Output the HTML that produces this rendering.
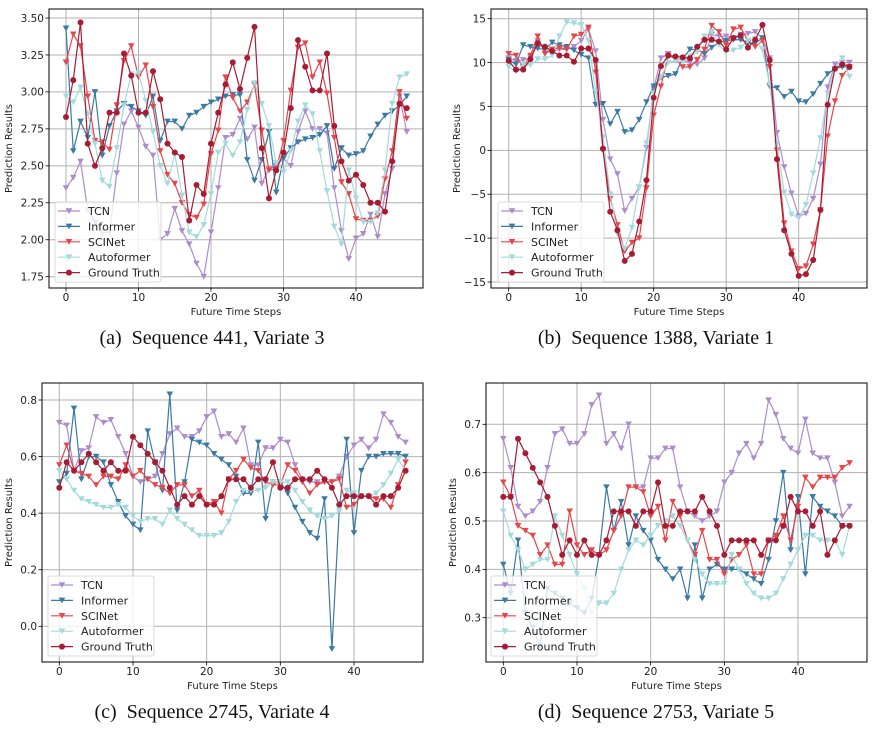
<!DOCTYPE html>
<html><head><meta charset="utf-8"><style>
html,body{margin:0;padding:0;background:#fff;width:881px;height:729px;overflow:hidden}
svg{display:block}
.tk{font-family:"DejaVu Sans","Liberation Sans",sans-serif;font-size:10.5px;fill:#222}
.lb{font-family:"DejaVu Sans","Liberation Sans",sans-serif;font-size:10px;fill:#222}
.cap{font-family:"Liberation Serif",serif;font-size:20px;fill:#111;white-space:pre}
.lg{font-family:"DejaVu Sans","Liberation Sans",sans-serif;font-size:11px;fill:#222}
</style></head><body>
<svg id="fig" width="881" height="729"></svg>
<script>
const seriesNames=["TCN","Informer","SCINet","Autoformer","Ground Truth"];
const seriesColors=["#ad8ccb","#3a7aa4","#e6464a","#a3dadd","#a81c33"];
const aTCN=[2.35,2.42,2.53,2.2,2.12,2.05,2.05,2.45,2.78,2.87,2.76,2.63,2.57,2.0,2.04,2.21,2.06,1.97,1.84,1.75,2.05,2.35,2.69,2.71,2.82,2.68,2.76,2.38,2.48,2.50,2.55,2.50,2.73,2.87,2.75,2.75,2.72,2.35,2.06,1.87,2.01,2.04,2.17,2.02,2.31,2.48,2.97,2.73];
const aInf=[3.43,2.60,2.80,2.69,3.00,2.57,2.77,2.87,2.92,2.90,2.87,2.84,2.97,2.67,2.80,2.80,2.75,2.84,2.86,2.90,2.93,2.95,2.97,2.98,2.98,2.54,2.40,2.54,2.73,2.32,2.55,2.62,2.66,2.68,2.69,2.71,2.77,2.48,2.62,2.57,2.58,2.60,2.70,2.78,2.84,2.87,2.91,2.97];
const aSCI=[3.20,3.39,3.31,2.97,2.67,2.66,2.61,2.91,3.21,3.31,3.10,3.18,2.90,2.60,2.44,2.38,2.25,2.17,2.15,2.24,2.58,2.74,3.10,2.96,2.87,2.93,3.05,2.74,2.47,2.48,2.67,3.01,3.30,3.33,3.10,3.20,2.99,2.69,2.39,2.31,2.14,2.13,2.13,2.16,2.41,2.60,3.00,2.82];
const aAuto=[2.97,2.93,3.03,2.85,2.65,2.40,2.36,2.62,2.91,3.12,3.13,2.94,2.73,2.50,2.38,2.58,2.30,2.05,2.02,2.10,2.31,2.59,2.65,2.57,2.66,2.88,3.06,2.92,2.77,2.52,2.46,2.60,2.80,2.91,2.85,2.60,2.33,2.09,1.97,2.47,2.28,2.12,2.12,2.18,2.47,2.92,3.10,3.12];
const aGT=[2.83,3.08,3.47,2.65,2.50,2.62,2.86,2.86,3.26,3.11,2.86,2.86,3.14,2.95,2.65,2.59,2.56,2.13,2.37,2.31,2.65,2.86,3.05,3.20,3.02,3.23,3.44,2.62,2.28,2.47,2.59,2.89,3.35,3.17,3.01,3.01,3.26,2.77,2.53,2.40,2.44,2.37,2.25,2.25,2.19,2.53,2.92,2.89];
const bTCN=[10.5,10.2,10.3,10.5,12.5,11.5,11.3,11.5,11.5,11.8,12.5,13.8,11.3,3.5,-1,-2.7,-6.9,-5.5,-4.2,0.3,7,10.5,11,10.5,10.3,10,9.8,10.5,13.2,13,13,12.8,13.2,13.3,13.5,12.8,10.5,2,-1.9,-4.9,-7.5,-7.2,-5.5,-1.6,7.2,9.8,10,10];
const bInf=[10.3,9.8,12,11.8,11.6,11.5,12.3,12,11.8,11.4,10.9,10.5,5.2,5.3,3,4.4,2.1,2.3,3.5,5.5,7.3,8.3,8.5,8.7,10.5,11.5,11.5,11,11.7,12.3,12.5,12.6,12.6,12.2,12.2,12.8,7.3,7.1,6.1,6.7,5.6,5.5,6.4,7.6,8.7,9.3,9.5,9.5];
const bSCI=[11,10.8,9.5,10.8,13,11.0,11.5,11.7,11.5,13,13.2,14,8.9,0,-5.5,-8.5,-11.5,-10.5,-10,-4.3,4,7.3,10.8,10.5,9.5,9.5,10.3,11.5,14.2,13.5,12,13.8,14,12.5,11.8,12.5,9.5,0,-8.3,-11.5,-13.5,-13.2,-10.7,-6.8,1.6,5.6,8.5,9.5];
const bAuto=[9.5,9,9.8,9.7,10.4,10.4,10.8,13,14.6,14.5,14.3,12.5,6.7,1.5,-5,-9.5,-11.2,-8.8,-4.2,0.8,6.5,8.4,10.0,10.2,10.1,10.7,11.2,13,13.5,12,11.2,11.4,11.7,12.5,12.7,11.5,7.5,0.8,-4.8,-7.3,-7.7,-6.2,-2.6,1.4,6.5,9.3,10.5,8.4];
const bGT=[10.2,9.2,9.2,10.4,12.2,11.8,11.3,10.8,10.8,10.1,11.6,11.6,10.3,0.2,-7,-9.1,-12.6,-11.8,-8.1,-3.4,6,9.6,10.8,10.7,10.6,10.5,11.8,12.6,12.6,12.4,11.5,12.8,13.1,11.7,12.6,14.3,10.3,-1,-9.1,-11.8,-14.3,-14.1,-12.5,-6.8,5.2,9.3,9.8,9.5];
const cTCN=[.72,.71,.55,.62,.63,.74,.72,.73,.67,.61,.53,.51,.52,.53,.61,.68,.70,.67,.67,.69,.74,.76,.67,.68,.65,.70,.57,.57,.63,.63,.66,.65,.57,.52,.51,.51,.51,.51,.53,.60,.64,.66,.63,.66,.75,.72,.67,.65];
const cInf=[.51,.54,.77,.52,.60,.60,.58,.50,.44,.39,.36,.34,.69,.58,.48,.82,.41,.51,.66,.65,.64,.61,.59,.57,.53,.47,.47,.65,.38,.51,.51,.47,.42,.37,.33,.31,.45,-.08,.41,.66,.33,.55,.60,.60,.61,.61,.61,.60];
const cSCI=[.57,.64,.55,.54,.53,.50,.53,.53,.52,.57,.53,.55,.52,.50,.49,.47,.50,.50,.46,.48,.43,.44,.40,.52,.55,.59,.56,.55,.51,.50,.50,.57,.55,.51,.47,.50,.51,.51,.52,.42,.43,.46,.46,.45,.45,.42,.50,.58];
const cAuto=[.55,.52,.48,.45,.44,.43,.42,.42,.43,.42,.39,.37,.38,.38,.36,.41,.38,.36,.34,.32,.32,.32,.33,.37,.44,.48,.48,.48,.49,.51,.51,.51,.48,.44,.41,.39,.38,.39,.41,.48,.47,.46,.46,.47,.50,.54,.59,.55];
const cGT=[.49,.58,.55,.58,.61,.58,.55,.58,.55,.55,.67,.64,.61,.58,.55,.49,.43,.46,.43,.46,.43,.43,.46,.52,.52,.52,.49,.52,.52,.58,.49,.49,.52,.52,.52,.55,.52,.49,.43,.46,.46,.46,.46,.43,.46,.46,.49,.55];
const dTCN=[.67,.61,.53,.51,.52,.54,.61,.68,.69,.66,.66,.68,.74,.76,.66,.68,.65,.70,.57,.57,.63,.63,.65,.65,.57,.52,.51,.50,.51,.52,.58,.60,.64,.66,.63,.66,.75,.72,.67,.65,.64,.71,.64,.63,.63,.58,.51,.53];
const dInf=[.41,.35,.46,.31,.28,.24,.36,.35,.34,.33,.32,.31,.34,.43,.57,.48,.54,.45,.51,.48,.46,.42,.40,.38,.40,.34,.45,.34,.40,.41,.40,.40,.40,.39,.38,.37,.42,.50,.60,.44,.55,.39,.55,.53,.52,.51,.49,.49];
const dSCI=[.58,.55,.49,.48,.47,.43,.45,.41,.41,.52,.45,.43,.44,.43,.44,.48,.51,.57,.57,.56,.51,.53,.46,.54,.51,.46,.43,.48,.42,.42,.39,.42,.43,.45,.39,.39,.46,.47,.51,.46,.53,.59,.57,.59,.59,.59,.61,.62];
const dAuto=[.52,.47,.44,.40,.41,.42,.42,.51,.47,.43,.39,.36,.31,.33,.33,.35,.40,.44,.46,.45,.47,.49,.50,.51,.49,.46,.42,.39,.37,.37,.37,.43,.40,.37,.35,.34,.34,.35,.38,.41,.44,.47,.47,.46,.46,.46,.43,.49];
const dGT=[.55,.55,.67,.64,.61,.58,.55,.49,.43,.46,.43,.46,.43,.43,.46,.52,.52,.52,.49,.52,.52,.58,.49,.49,.52,.52,.52,.55,.52,.49,.43,.46,.46,.46,.46,.43,.46,.46,.49,.55,.52,.52,.49,.52,.43,.46,.49,.49];
const xTicks=[0,10,20,30,40];
const aYTicks=[1.75,2.00,2.25,2.50,2.75,3.00,3.25,3.50];
const bYTicks=[-15,-10,-5,0,5,10,15];
const cYTicks=[0.0,0.2,0.4,0.6,0.8];
const dYTicks=[0.3,0.4,0.5,0.6,0.7];
const captions=["(a)\u00a0\u00a0Sequence 441, Variate 3","(b)\u00a0\u00a0Sequence 1388, Variate 1","(c)\u00a0\u00a0Sequence 2745, Variate 4","(d)\u00a0\u00a0Sequence 2753, Variate 5"];

const NS="http://www.w3.org/2000/svg";
const fig=document.getElementById('fig');
function mk(tag,attrs,parent){const e=document.createElementNS(NS,tag);for(const k in attrs)e.setAttribute(k,attrs[k]);(parent||fig).appendChild(e);return e;}
function fmt(v,dec){let s=v.toFixed(dec);if(s.startsWith('-'))s='\u2212'+s.slice(1);return s;}

const panels=[
 {id:'a',box:[49,9,423,288],x0:66,x40:356,yv:[3.5,1.75],yp:[18,276.7],ticks:aYTicks,dec:2,data:[aTCN,aInf,aSCI,aAuto,aGT],leg:[55,202]},
 {id:'b',box:[491,9,867,288],x0:508.7,x40:798.7,yv:[15,-15],yp:[18.7,282],ticks:bYTicks,dec:0,data:[bTCN,bInf,bSCI,bAuto,bGT],leg:[498,202]},
 {id:'c',box:[42,383,423,662],x0:59.3,x40:354,yv:[0.8,0.0],yp:[400,626.3],ticks:cYTicks,dec:1,data:[cTCN,cInf,cSCI,cAuto,cGT],leg:[48,576]},
 {id:'d',box:[486,383,867,662],x0:503.3,x40:798,yv:[0.7,0.3],yp:[424.3,617.7],ticks:dYTicks,dec:1,data:[dTCN,dInf,dSCI,dAuto,dGT],leg:[491,576]}
];

panels.forEach((p,pi)=>{
 const g=mk('g',{});
 
 
 const [L,T,R,B]=p.box;
 const xs=i=>p.x0+(p.x40-p.x0)*i/40;
 const ys=v=>p.yp[0]+(p.yp[1]-p.yp[0])*(v-p.yv[0])/(p.yv[1]-p.yv[0]);
 mk('rect',{x:L,y:T,width:R-L,height:B-T,fill:'#fff'},g);
 const grid=mk('g',{},g);
 
 
 xTicks.forEach(t=>{
  const x=xs(t);
  mk('line',{x1:x,x2:x,y1:T,y2:B,stroke:'#b0b0b0','stroke-width':1},grid);
  mk('line',{x1:x,x2:x,y1:B,y2:B+3.5,stroke:'#000','stroke-width':0.8},g);
  const t1=mk('text',{x:x,y:B+13,'text-anchor':'middle',class:'tk'},g);t1.textContent=t;
  
  
 });
 p.ticks.forEach(t=>{
  const y=ys(t);
  mk('line',{x1:L,x2:R,y1:y,y2:y,stroke:'#b0b0b0','stroke-width':1},grid);
  mk('line',{x1:L-3.5,x2:L,y1:y,y2:y,stroke:'#000','stroke-width':0.8},g);
  const t1=mk('text',{x:L-5,y:y+3.8,'text-anchor':'end',class:'tk'},g);t1.textContent=fmt(t,p.dec);
  
  
 });
 p.data.forEach((arr,si)=>{
  const col=seriesColors[si];
  const sg=mk('g',{},g);
  
  
  mk('polyline',{points:arr.map((v,i)=>xs(i)+','+ys(v)).join(' '),fill:'none',stroke:col,'stroke-width':1.2},sg);
  arr.forEach((v,i)=>{
   const x=xs(i),y=ys(v);
   if(si===4)mk('circle',{cx:x,cy:y,r:3,fill:col},sg);
   else mk('path',{d:`M${x-3.3},${y-2.8}L${x+3.3},${y-2.8}L${x},${y+3}Z`,fill:col},sg);
  });
 });
 mk('rect',{x:L,y:T,width:R-L,height:B-T,fill:'none',stroke:'#000','stroke-width':1},g);
 const lg=mk('g',{},g);
 
 
 const [lx,ly]=p.leg;
 mk('rect',{x:lx,y:ly,width:106,height:80,rx:2,fill:'rgba(255,255,255,0.8)',stroke:'#d0d0d0','stroke-width':0.8},lg);
 seriesNames.forEach((n,si)=>{
  const y=ly+9+si*15.4, col=seriesColors[si];
  const e=mk('g',{},lg);
  
  
  mk('line',{x1:lx+3,x2:lx+25,y1:y,y2:y,stroke:col,'stroke-width':1.2},e);
  if(si===4)mk('circle',{cx:lx+14,cy:y,r:3,fill:col},e);
  else mk('path',{d:`M${lx+10.7},${y-2.8}L${lx+17.3},${y-2.8}L${lx+14},${y+3}Z`,fill:col},e);
  const t=mk('text',{x:lx+33,y:y+4,class:'lg'},e);t.textContent=n;
 });
 const xl=mk('text',{x:(L+R)/2,y:B+27,'text-anchor':'middle',class:'lb'},g);xl.textContent='Future Time Steps';
 
 
 const yx=L-(pi%2===0?(p.dec===2?37:30):(p.dec===0?31:30));
 const yl=mk('text',{x:yx,y:(T+B)/2,'text-anchor':'middle',class:'lb',transform:`rotate(-90 ${yx} ${(T+B)/2})`},g);yl.textContent='Prediction Results';
 
 
 const cx=pi%2===0?212:656;
 const cap=mk('text',{x:cx,y:B+56,'text-anchor':'middle',class:'cap'},g);cap.textContent=captions[pi];
 
 
});
</script>
</body></html>
